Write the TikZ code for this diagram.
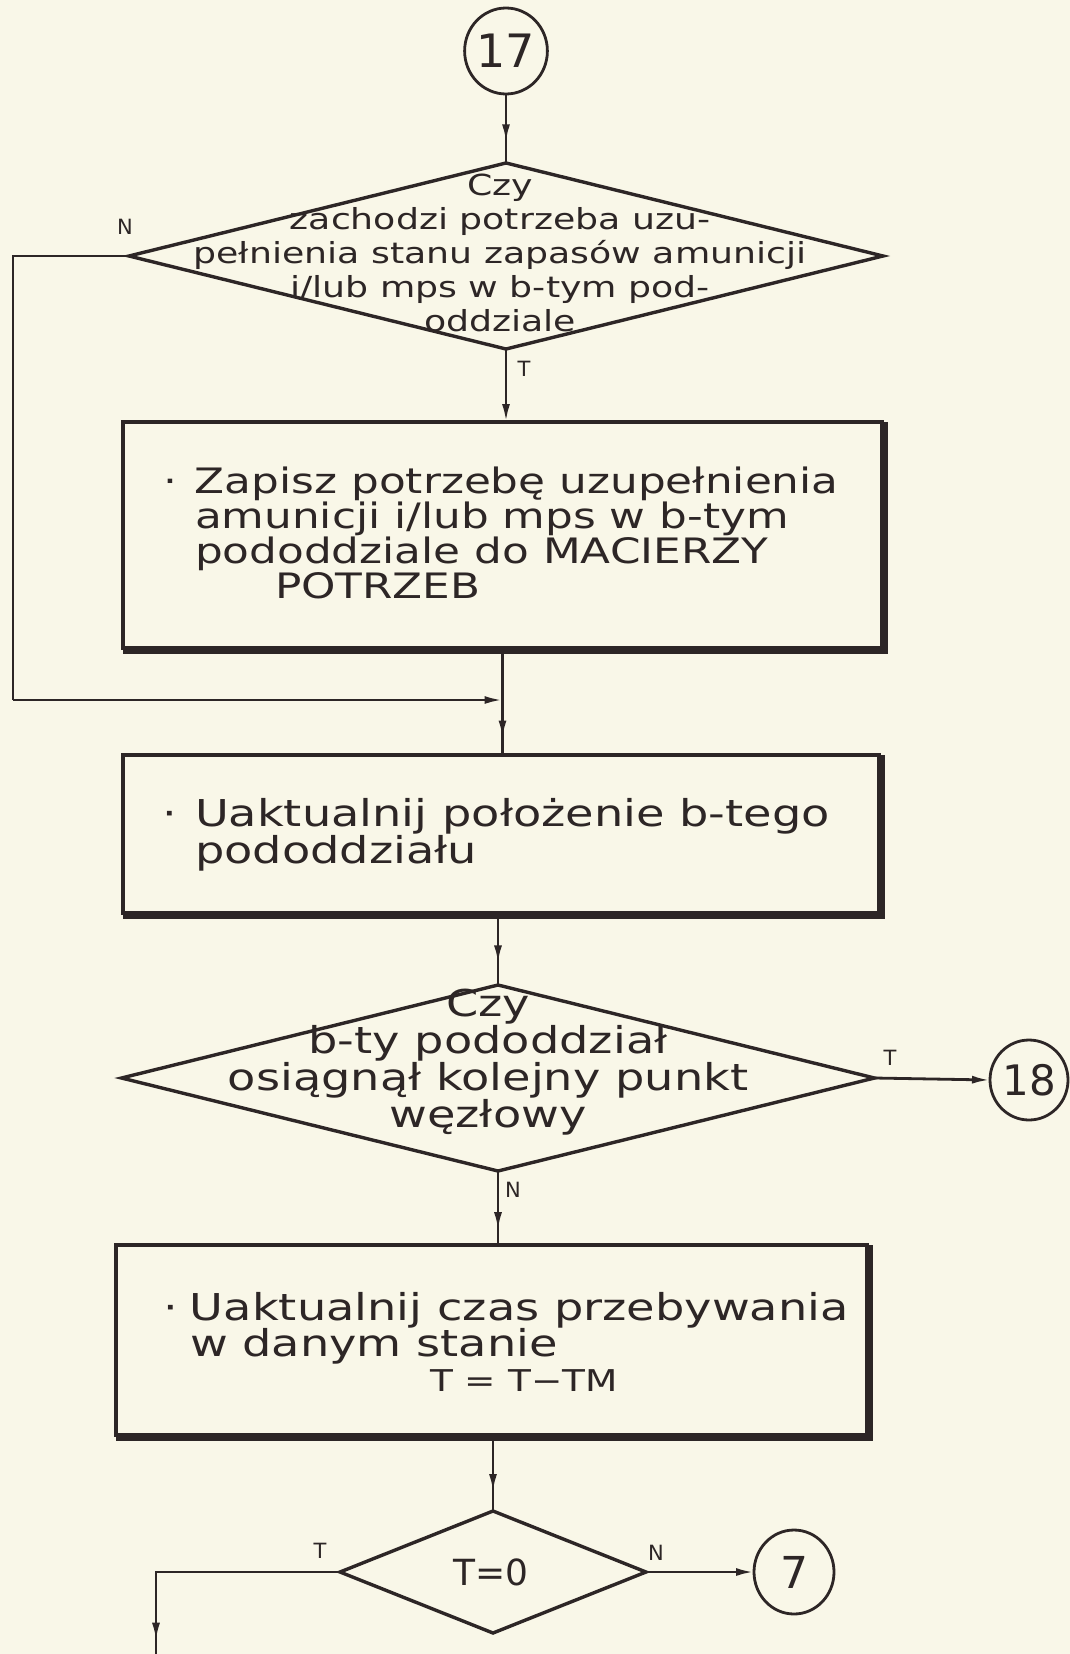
\documentclass[tikz,border=0pt]{standalone}
\usepackage{fontspec}
\setmainfont{DejaVu Sans}
\newfontfamily\hand[FakeStretch=1.25]{DejaVu Sans}
\usetikzlibrary{shapes.geometric,arrows.meta,decorations.markings}
\definecolor{paper}{RGB}{249,247,232}
\definecolor{ink}{RGB}{45,38,38}

\begin{document}
\begin{tikzpicture}[x=1pt,y=-1pt,
  every node/.style={inner sep=0pt,outer sep=0pt,text=ink},
  flowbox/.style={draw=ink,line width=3.4pt,rectangle},
  choice/.style={draw=ink,line width=3.4pt,diamond},
  conn/.style={draw=ink,line width=2.8pt,ellipse},
  wire/.style={draw=ink,line width=2.8pt},
  endtip/.style={-{Latex[length=18pt,width=8pt]}},
  midtip/.style={postaction={decorate},decoration={markings,
    mark=at position #1 with {\arrow{Latex[length=18pt,width=8pt]}}}},
  lbl/.style={font=\fontsize{21}{21}\selectfont},
  qtext/.style={align=center,font=\hand\fontsize{#1}{34}\selectfont},
  btext/.style={align=left,anchor=west,font=\hand\fontsize{#1}{35}\selectfont},
  shadow/.style={draw=ink,line width=7pt}
]
% page
\fill[paper] (0,0) rectangle (1070,1654);
\useasboundingbox (0,0) rectangle (1070,1654);

% connector 17
\node[conn,minimum width=80,minimum height=86] (c17) at (506,51) {\fontsize{46}{46}\selectfont 17};

% first question
\node[choice,minimum width=754,minimum height=186] (d1) at (506,256) {};
\node[qtext=29] (q1) at (500,253) {Czy\\zachodzi potrzeba uzu-\\pełnienia stanu zapasów amunicji\\i/lub mps w b-tym pod-\\oddziale};
\node[lbl] (n1) at (125,227) {N};
\node[lbl] (t1) at (524,369) {T};

% record need
\node[flowbox,minimum width=759,minimum height=226] (b1) at (502.5,535) {};
\draw[shadow] ([yshift=-2]b1.south west) -- ([xshift=2,yshift=-2]b1.south east) -- ([xshift=2]b1.north east);
\node[btext=35] (x1) at (195,533) {\llap{·\hspace{18pt}}Zapisz potrzebę uzupełnienia\\amunicji i/lub mps w b-tym\\pododdziale do MACIERZY\\\hspace{80pt}POTRZEB};

% update position
\node[flowbox,minimum width=756,minimum height=158] (b2) at (501,834) {};
\draw[shadow] ([yshift=-2]b2.south west) -- ([xshift=2,yshift=-2]b2.south east) -- ([xshift=2]b2.north east);
\node[btext=37] (x2) at (195,835) {\llap{·\hspace{18pt}}Uaktualnij położenie b-tego\\pododdziału};

% second question
\node[choice,minimum width=753,minimum height=186] (d2) at (498,1078) {};
\node[qtext=37] (q2) at (488,1062) {Czy\\b-ty pododdział\\osiągnął kolejny punkt\\węzłowy};
\node[lbl] (t2) at (890,1058) {T};
\node[lbl] (n2) at (513,1190) {N};
\node[conn,minimum width=78,minimum height=80] (c18) at (1029,1080) {\fontsize{42}{42}\selectfont 18};

% update time
\node[flowbox,minimum width=751,minimum height=190] (b3) at (491.5,1340) {};
\draw[shadow] ([yshift=-2]b3.south west) -- ([xshift=2,yshift=-2]b3.south east) -- ([xshift=2]b3.north east);
\node[btext=37] (x3) at (190,1342) {\llap{·\hspace{12pt}}Uaktualnij czas przebywania\\w danym stanie\\\hspace{240pt}{\fontsize{30}{30}\selectfont T = T−TM}};

% third question
\node[choice,minimum width=306,minimum height=122] (d3) at (493,1572) {};
\node[font=\fontsize{36}{36}\selectfont] (q3) at (491,1572) {T=0};
\node[lbl] (t3) at (320,1551) {T};
\node[lbl] (n3) at (656,1553) {N};
\node[conn,minimum width=80,minimum height=84] (c7) at (794,1572) {\fontsize{44}{44}\selectfont 7};

% loop and exit points
\coordinate (j1) at (502.5,700);
\coordinate (lc1) at (13,256);
\coordinate (lc2) at (13,700);
\coordinate (bl1) at (156,1572);
\coordinate (bl2) at (156,1654);

% connectors
\draw[wire,midtip=0.7] (c17.south) -- (d1.north);
\draw[wire,endtip] (d1.south) -- (d1.south |- b1.north);
\draw[wire] (d1.west) -- (lc1) -- (lc2);
\draw[wire,endtip] (lc2) -- (j1);
\draw[wire] (b1.south) -- (j1);
\draw[wire,midtip=0.7] (j1) -- (j1 |- b2.north);
\draw[wire,midtip=0.7] (d2.north |- b2.south) -- (d2.north);
\draw[wire,endtip] (d2.east) -- (c18.west);
\draw[wire,midtip=0.8] (d2.south) -- (d2.south |- b3.north);
\draw[wire,midtip=0.75] (d3.north |- b3.south) -- (d3.north);
\draw[wire,endtip] (d3.east) -- (c7.west);
\draw[wire,midtip=0.95] (d3.west) -- (bl1) -- (bl2);
\end{tikzpicture}
\end{document}
